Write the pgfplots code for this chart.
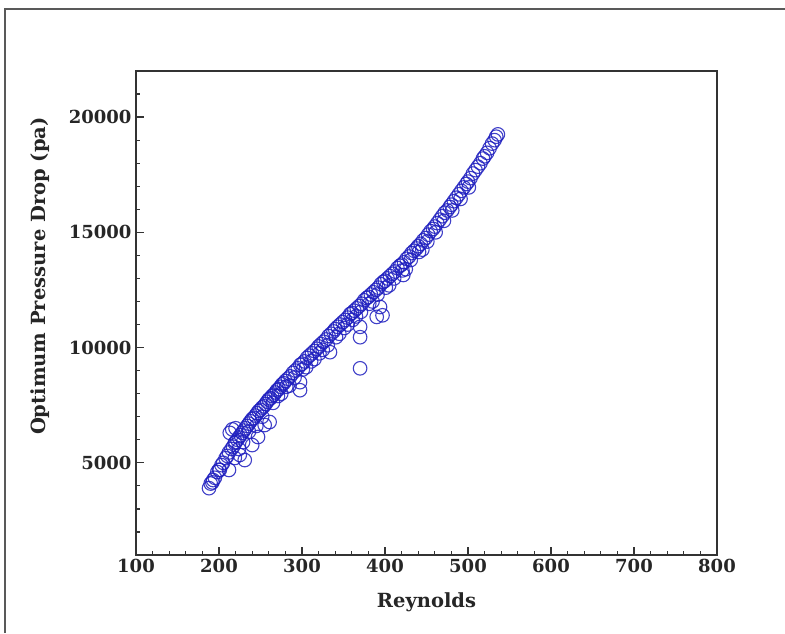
\documentclass[border=0pt]{standalone}
\usepackage{pgfplots}
\pgfplotsset{compat=1.18}
\usepackage{fontspec}
\setmainfont{DejaVu Serif}
\definecolor{ptblue}{RGB}{30,30,190}
\begin{document}
\begin{tikzpicture}[x=1pt,y=1pt]
\useasboundingbox (0,0) rectangle (785,633);
\draw[black!65, line width=1.5pt] (5,0) -- (5,624) -- (786,624);
\begin{axis}[
  at={(136pt,78pt)}, anchor=south west,
  scale only axis, width=581pt, height=484pt,
  xmin=100, xmax=800, ymin=1000, ymax=22000,
  xtick={100,200,...,800}, ytick={5000,10000,15000,20000},
  minor xtick={120,140,...,780}, minor ytick={2000,3000,...,21000},
  scaled y ticks=false, scaled x ticks=false,
  tick align=inside, xtick pos=bottom, ytick pos=left,
  major tick length=8pt, minor tick length=4.5pt,
  axis line style={line width=1.6pt, draw=black!80},
  every tick/.style={black!80, line width=1.2pt},
  ticklabel style={font=\fontsize{18}{18}\selectfont\bfseries, text=black!85},
  /pgf/number format/assume math mode=true,
  /pgf/number format/1000 sep={},
  xticklabel style={yshift=-1pt},
  yticklabel style={xshift=-1pt},
  xlabel={Reynolds}, ylabel={Optimum Pressure Drop (pa)},
  label style={font=\fontsize{19.5}{19.5}\selectfont\bfseries, text=black!85},
  xlabel style={at={(axis description cs:0.5,-0.097)}, anchor=center},
  ylabel style={at={(axis description cs:-0.165,0.576)}, anchor=center},
]
\addplot[only marks, mark=o, mark size=6.8pt, ptblue, line width=1.1pt, draw opacity=0.85] table {
x y
188 3900
190 4100
192 4150
195 4350
198 4600
200 4700
203 4900
205 5000
208 5200
210 5300
212 5450
215 5600
217 5700
219 5850
220 5900
222 6000
224 6100
226 6200
228 6300
230 6400
232 6500
234 6600
236 6700
238 6800
240 6900
242 6950
244 7050
246 7150
248 7250
250 7300
252 7400
254 7450
256 7550
258 7650
260 7750
262 7800
264 7900
266 7950
268 8050
270 8150
272 8200
274 8300
276 8400
278 8450
280 8550
283 8650
286 8750
289 8900
292 9000
295 9100
298 9250
300 9300
303 9400
306 9550
309 9650
312 9750
315 9850
318 9950
320 10050
323 10150
326 10250
329 10350
332 10500
335 10600
338 10700
340 10800
343 10900
346 11000
349 11100
352 11200
355 11300
358 11450
360 11500
363 11600
366 11700
369 11800
372 11900
375 12050
378 12150
380 12200
383 12300
386 12400
389 12500
392 12600
395 12750
398 12850
400 12900
403 13000
406 13100
409 13200
412 13300
415 13450
418 13550
420 13600
423 13700
426 13850
429 13950
432 14100
435 14200
438 14300
440 14400
443 14500
446 14650
449 14750
452 14900
455 15050
458 15150
460 15250
463 15400
466 15550
469 15700
472 15850
475 15950
478 16100
480 16200
483 16350
486 16500
489 16650
492 16800
495 16950
498 17100
500 17200
503 17350
506 17550
509 17700
512 17850
515 18000
518 18200
520 18300
523 18450
526 18650
529 18850
532 19000
534 19150
536 19250
193 4250
201 4690
212 4690
219 5210
225 5340
231 5120
240 5770
247 6120
255 6640
261 6770
213 6300
216 6450
220 6500
224 5600
229 5900
236 6350
245 6600
252 7000
265 7600
275 8000
285 8350
305 9150
315 9500
325 9900
345 10600
355 11000
365 11350
385 12000
405 12700
425 13400
445 14250
271 7900
281 8300
291 8700
301 9050
311 9400
321 9750
331 10100
341 10450
351 10850
361 11200
371 11550
381 11900
391 12300
401 12600
411 13000
421 13350
431 13800
441 14150
451 14600
461 15000
471 15500
481 15950
491 16450
501 16950
297.6 8500
297.6 8150
333.7 9800
370 10900
370 10450
370 9100
394 11760
397 11400
390 11330
422 13150
};
\end{axis}
\end{tikzpicture}
\end{document}
